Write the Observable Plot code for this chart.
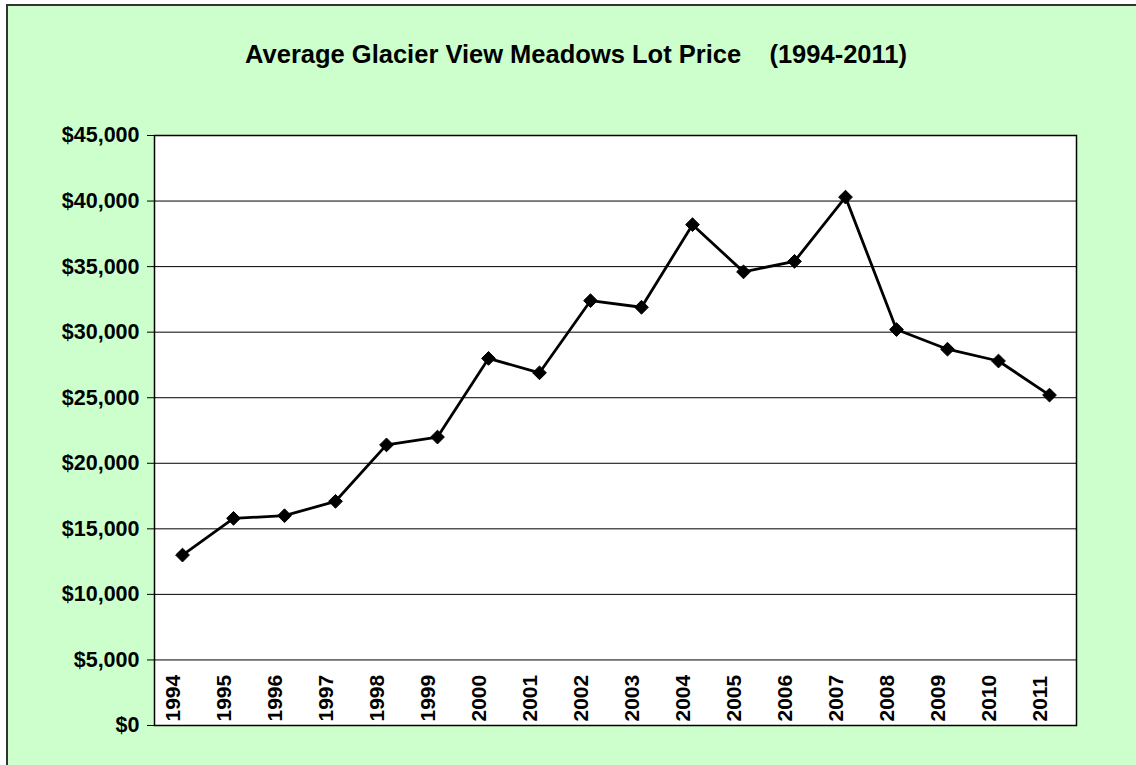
<!DOCTYPE html>
<html>
<head>
<meta charset="utf-8">
<script src="https://cdn.jsdelivr.net/npm/d3@7"></script>
<script src="https://cdn.jsdelivr.net/npm/@observablehq/plot@0.6"></script>
<style>
  html, body { margin: 0; padding: 0; background: #ffffff; }
  #chart {
    position: absolute; left: 6px; top: 4px;
    width: 1128px; height: 759px;
    background: #CCFFCC;
    border-top: 2px solid #333;
    border-left: 2px solid #333;
    font-family: "Liberation Sans", Arial, sans-serif;
    overflow: hidden;
  }
  #title {
    box-sizing: border-box;
    height: 94px; padding-top: 33px;
    line-height: 30px;
    text-align: center;
    font-size: 25.5px; font-weight: bold; color: #000;
    white-space: pre;
    padding-left: 8px;
  }
  svg { display: block; }
</style>
</head>
<body>
<div id="chart">
  <div id="title">Average Glacier View Meadows Lot Price    (1994-2011)</div>
</div>
<script>
const years = ["1994", "1995", "1996", "1997", "1998", "1999", "2000", "2001", "2002", "2003", "2004", "2005", "2006", "2007", "2008", "2009", "2010", "2011"];
const prices = [13000, 15800, 16000, 17100, 21400, 22000, 28000, 26900, 32400, 31900, 38200, 34600, 35400, 40300, 30200, 28700, 27800, 25200];
const yTicks = [0, 5000, 10000, 15000, 20000, 25000, 30000, 35000, 40000, 45000];
const gridTicks = [5000, 10000, 15000, 20000, 25000, 30000, 35000, 40000];

const data = years.map((year, i) => ({year, price: prices[i]}));
const fmt = d => "$" + d3.format(",")(d);

const plot = Plot.plot({
  width: 1128,
  height: 665,
  marginLeft: 146,
  marginRight: 60,
  marginTop: 35,
  marginBottom: 40,
  style: {
    background: "transparent",
    fontFamily: "'Liberation Sans', Arial, sans-serif",
    fontSize: "21.5px",
    fontWeight: "bold",
    color: "#000"
  },
  x: { type: "point", domain: years, padding: 0.5, align: 0.5, axis: null },
  y: {
    domain: [0, 45000],
    ticks: yTicks,
    tickFormat: fmt,
    tickSize: 7,
    tickPadding: 8,
    label: null
  },
  marks: [
    Plot.frame({ fill: "#ffffff" }),
    Plot.ruleY(gridTicks, { stroke: "#000", strokeWidth: 1 }),
    Plot.frame({ stroke: "#000", strokeWidth: 1.5 }),
    Plot.text(years, {
      x: d => d,
      text: d => d,
      frameAnchor: "bottom",
      rotate: -90,
      textAnchor: "start",
      dy: -4,
      dx: -3,
      fontSize: 21,
      fontWeight: "bold",
      fill: "#000"
    }),
    Plot.line(data, { x: "year", y: "price", stroke: "#000", strokeWidth: 2.8 }),
    Plot.dot(data, { x: "year", y: "price", symbol: "diamond2", r: 6.2, fill: "#000", stroke: "#000", strokeWidth: 1 })
  ]
});
document.getElementById("chart").appendChild(plot);
</script>
</body>
</html>
